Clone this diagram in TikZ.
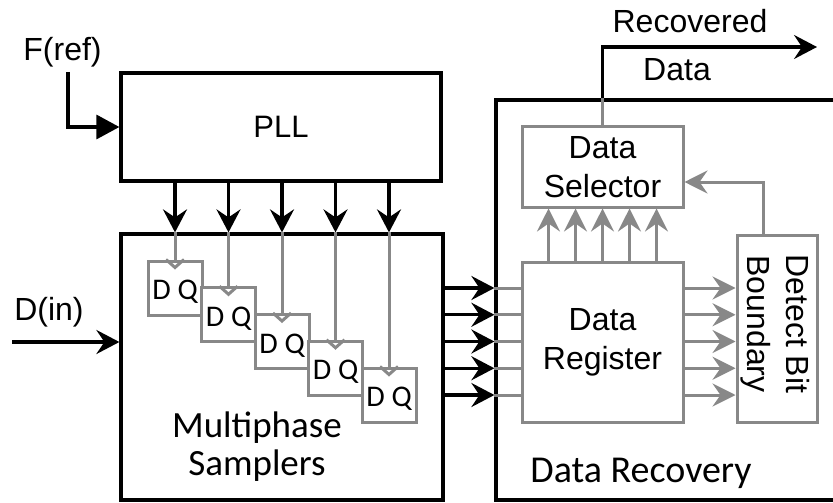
\documentclass[tikz,border=0pt]{standalone}
\usepackage{fontspec}
\setmainfont{Liberation Sans}
\newfontfamily\calibri{Carlito}
\usetikzlibrary{arrows.meta}
\definecolor{linegray}{RGB}{136,136,136}
\begin{document}
\begin{tikzpicture}[x=0.5pt,y=-0.5pt,
  blk/.style={line width=1.6pt,black},
  gry/.style={line width=1.5pt,linegray},
  barr/.style={blk,-{Stealth[length=11.5pt,width=12pt,inset=4pt]}},
  garr/.style={gry,-{Stealth[length=11.5pt,width=11.5pt,inset=4pt]}},
  blkbox/.style={draw=black,line width=1.6pt,inner sep=0pt},
  grybox/.style={draw=linegray,line width=1.5pt,inner sep=0pt,fill=white},
  lbl/.style={font=\fontsize{16}{19.5}\selectfont,align=center,inner sep=0pt},
  sans/.style={font=\calibri\fontsize{18.5}{19}\selectfont,inner sep=0pt},
]
\useasboundingbox (0,0) rectangle (833,502);
\clip (0,0) rectangle (833,502);

% main blocks
\node[blkbox,minimum width=160pt,minimum height=54pt,
      font=\fontsize{15.5}{18}\selectfont] (pll) at (281,127) {PLL};
\node[blkbox,minimum width=161pt,minimum height=133pt] (ms) at (282,367) {};
\node[blkbox,minimum width=177pt,minimum height=200pt] (dr) at (673,300) {};

% data recovery internals
\node[grybox,lbl,minimum width=80.5pt,minimum height=40pt] (ds) at (602.5,167) {Data\\Selector};
\node[grybox,lbl,minimum width=80.5pt,minimum height=80pt] (dreg) at (602.5,342) {Data\\Register};
\node[grybox,minimum width=40pt,minimum height=93.5pt] (db) at (777,328.5) {};
\node[lbl,rotate=-90] (dbt) at (775,324) {Detect Bit\\Boundary};

% sampling flip-flops, clock lines and outputs
\foreach \i in {0,...,4} {
  \node[grybox,minimum size=27pt,text height=11.5pt,text depth=0pt,
        font=\calibri\fontsize{15}{17}\selectfont] (ff\i) at ({175+53.5*\i},{288+26.75*\i}) {D Q};
  \draw[gry,line join=miter] ([xshift=-4.5pt]ff\i.north) -- ++(9,8) -- ++(9,-8);
  \draw[barr] (pll.south -| ff\i.north) -- (ms.north -| ff\i.north);
  \draw[gry] (ms.north -| ff\i.north) -- (ff\i.north);
  \draw[barr] (ms.east |- ff\i.center) -- (dr.west |- ff\i.center);
  \draw[gry] (dr.west |- ff\i.center) -- (dreg.west |- ff\i.center);
  \draw[garr] (dreg.east |- ff\i.center) -- (db.west |- ff\i.center);
}

% register to selector
\foreach \k in {-2,...,2}
  \draw[garr] ([xshift=\k*13.5pt]dreg.north) -- ([xshift=\k*13.5pt]ds.south);

% boundary feedback
\draw[garr] ([xshift=-7pt]db.north) |- ([yshift=-7.5pt]ds.east);

% recovered data output
\coordinate (rd) at (817,47);
\draw[gry] (ds.north) -- (ds.north |- dr.north);
\draw[barr] (ds.north |- dr.north) |- (rd);

% inputs
\coordinate (fr) at (68,72);
\draw[blk,-{Triangle[length=11.5pt,width=12pt]}] (fr) |- (pll.west);
\coordinate (din) at (12,342);
\draw[barr] (din) -- (din -| ms.west);

% labels
\node[lbl,anchor=base] (freft) at (62.5,61) {F(ref)};
\node[lbl,anchor=base] (dint) at (49,320) {D(in)};
\node[lbl,anchor=base] (rect) at (690,33) {Recovered};
\node[lbl,anchor=base] (datt) at (677,81) {Data};
\node[sans,anchor=base] (ms1) at (257,437) {Multiphase};
\node[sans,anchor=base] (ms2) at (257,475) {Samplers};
\node[sans,anchor=base,font=\calibri\fontsize{19}{20}\selectfont] (drt) at (641,482) {Data Recovery};
\end{tikzpicture}
\end{document}
